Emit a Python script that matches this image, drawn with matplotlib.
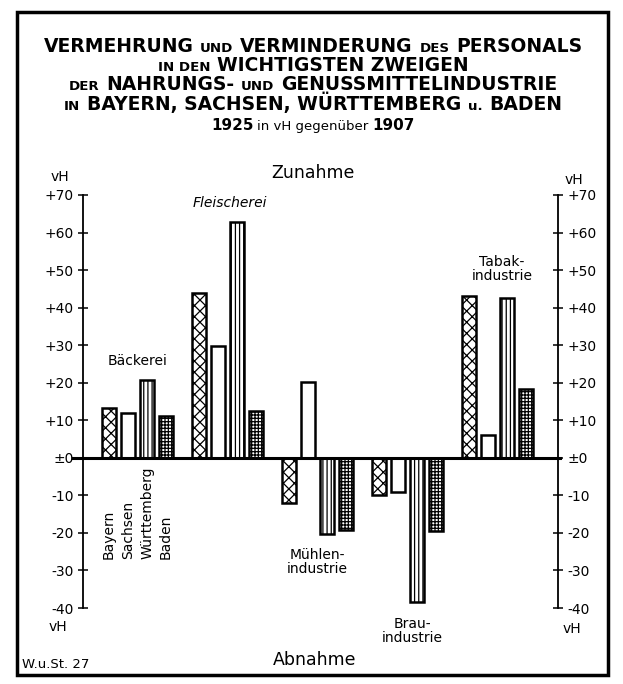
import numpy as np
import matplotlib
matplotlib.use("Agg")
import matplotlib.pyplot as plt
from matplotlib.patches import Rectangle

# data: change of staff 1925 vs 1907 in percent
branches = ['Bäckerei', 'Fleischerei', 'Mühlen-\nindustrie', 'Brau-\nindustrie', 'Tabak-\nindustrie']
states = ['Bayern', 'Sachsen', 'Württemberg', 'Baden']
bayern = [13.2, 43.8, -12.0, -10.0, 43.0]
sachsen = [11.9, 29.8, 20.3, -9.2, 6.1]
wuerttemberg = [20.6, 62.8, -20.3, -38.5, 42.5]
baden = [11.1, 12.4, -19.3, -19.5, 18.2]
yticks = [70, 60, 50, 40, 30, 20, 10, 0, -10, -20, -30, -40]
ytick_labels = ['+70', '+60', '+50', '+40', '+30', '+20', '+10', '±0',
                '-10', '-20', '-30', '-40']

W, H = 623, 684
fig = plt.figure(figsize=(W/100, H/100), dpi=100)
fig.patch.set_facecolor('white')

# axes placed in pixel terms of the original
ax_l, ax_r, ax_t, ax_b = 83, 558, 195, 608
ax = fig.add_axes([ax_l/W, 1 - ax_b/H, (ax_r-ax_l)/W, (ax_b-ax_t)/H])

x = np.arange(len(branches))
step = 0.211
bw = 0.162
hatches = ['xxx', '', '||||', '+++++']
series = [bayern, sachsen, wuerttemberg, baden]
plt.rcParams['hatch.linewidth'] = 0.9
for i, (vals, h) in enumerate(zip(series, hatches)):
    ax.bar(x + (i - 1.5)*step, vals, bw, facecolor='white', edgecolor='black',
           hatch=h, linewidth=1.8, zorder=2)

ax.set_xlim(-0.606, 4.672)
ax.set_ylim(-40, 70)
ax.axhline(0, xmin=-0.021, xmax=1.004, color='black', lw=2.2, clip_on=False, zorder=3)
for s in ['top', 'bottom']:
    ax.spines[s].set_visible(False)
for s in ['left', 'right']:
    ax.spines[s].set_linewidth(1.3)
ax.set_xticks([])
ax.set_yticks(yticks)
ax.set_yticklabels(ytick_labels)
ax.tick_params(axis='y', direction='inout', length=7, width=1.1, labelsize=10,
               right=True, labelright=True, pad=3)

# vH unit labels
fig.text(60/W, 1 - 177/H, 'vH', ha='center', va='center', fontsize=10)
fig.text(58/W, 1 - 627/H, 'vH', ha='center', va='center', fontsize=10)
fig.text(574/W, 1 - 180/H, 'vH', ha='center', va='center', fontsize=10)
fig.text(572/W, 1 - 629/H, 'vH', ha='center', va='center', fontsize=10)

# branch labels
ax.text(0.0, 25.8, branches[0], ha='center', va='center', fontsize=10)
ax.text(1.03, 67.8, branches[1], ha='center', va='center', fontsize=10, style='italic')
ax.text(2.0, -27.8, branches[2], ha='center', va='center', fontsize=10, linespacing=1.0)
ax.text(3.05, -46.0, branches[3], ha='center', va='center', fontsize=10,
        linespacing=1.0, clip_on=False)
ax.text(4.05, 50.4, branches[4], ha='center', va='center', fontsize=10, linespacing=1.0)

# state labels, written upward under the Bäckerei bars
for i, st in enumerate(states):
    ax.text(0 + (i - 1.5)*step, -27.0, st, rotation=90, rotation_mode='anchor',
            ha='left', va='center', fontsize=10)

fig.text(313/W, 1 - 173/H, 'Zunahme', ha='center', va='center', fontsize=12.5)
fig.text(315/W, 1 - 660/H, 'Abnahme', ha='center', va='center', fontsize=12.5)
fig.text(22/W, 1 - 668/H, 'W.u.St. 27', ha='left', va='baseline', fontsize=9.5)

# outer frame
fig.patches.append(Rectangle((17/W, 1 - 675/H), (608-17)/W, (675-12)/H,
                             transform=fig.transFigure, fill=False, lw=2.5,
                             edgecolor='black'))

# title with mixed letter sizes
big, small = 13.5, 9.6
title_lines = [
    [('VERMEHRUNG', big, 'bold'), ('UND', small, 'bold'), ('VERMINDERUNG', big, 'bold'),
     ('DES', small, 'bold'), ('PERSONALS', big, 'bold')],
    [('IN DEN', small, 'bold'), ('WICHTIGSTEN ZWEIGEN', big, 'bold')],
    [('DER', small, 'bold'), ('NAHRUNGS-', big, 'bold'), ('UND', small, 'bold'),
     ('GENUSSMITTELINDUSTRIE', big, 'bold')],
    [('IN', small, 'bold'), ('BAYERN, SACHSEN, WÜRTTEMBERG', big, 'bold'),
     ('u.', small, 'bold'), ('BADEN', big, 'bold')],
    [('1925', 11, 'bold'), ('in vH gegenüber', 9.5, 'normal'), ('1907', 11, 'bold')],
]
title_y = [52, 71, 90, 110, 130]
title_gap = [6.8, 6.8, 6.8, 6.8, 4.0]
renderer = fig.canvas.get_renderer()
for parts, yy, gap in zip(title_lines, title_y, title_gap):
    txts = [fig.text(0, 1 - yy/H, s, fontsize=fs, fontweight=fw, va='baseline',
                     family='DejaVu Sans') for s, fs, fw in parts]
    widths = [t.get_window_extent(renderer).width for t in txts]
    total = sum(widths) + gap*(len(widths) - 1)
    cur = 313 - total/2
    for t, w in zip(txts, widths):
        t.set_x(cur/W)
        cur += w + gap

fig.savefig('out.png', dpi=100, facecolor='white')
